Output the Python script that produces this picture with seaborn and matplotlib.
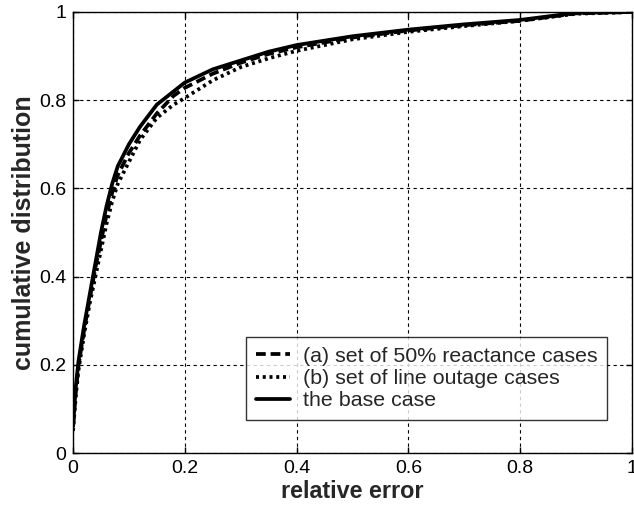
import numpy as np
import pandas as pd
import matplotlib
matplotlib.use("Agg")
import matplotlib.pyplot as plt
import seaborn as sns

# Data (x: relative error, y: cumulative distribution)
x_a = [0, 0.005, 0.01, 0.02, 0.03, 0.04, 0.05, 0.06, 0.07, 0.08, 0.10, 0.12, 0.15, 0.18, 0.20,
       0.25, 0.30, 0.35, 0.40, 0.50, 0.60, 0.70, 0.80, 0.90, 1.0]
y_a = [0.06, 0.14, 0.20, 0.28, 0.35, 0.42, 0.48, 0.54, 0.59, 0.63, 0.68, 0.72, 0.77, 0.81, 0.828,
       0.86, 0.885, 0.905, 0.92, 0.942, 0.958, 0.97, 0.98, 0.997, 1.0]
x_b = [0, 0.005, 0.01, 0.02, 0.03, 0.04, 0.05, 0.06, 0.07, 0.08, 0.10, 0.12, 0.15, 0.18, 0.20,
       0.25, 0.30, 0.35, 0.40, 0.50, 0.60, 0.70, 0.80, 0.90, 1.0]
y_b = [0.05, 0.13, 0.19, 0.27, 0.34, 0.40, 0.46, 0.52, 0.57, 0.61, 0.66, 0.71, 0.76, 0.79, 0.805,
       0.845, 0.875, 0.895, 0.912, 0.938, 0.955, 0.968, 0.98, 0.996, 1.0]
x_base = [0, 0.005, 0.01, 0.02, 0.03, 0.04, 0.05, 0.06, 0.07, 0.08, 0.10, 0.12, 0.15, 0.18, 0.20,
          0.25, 0.30, 0.35, 0.40, 0.50, 0.60, 0.70, 0.80, 0.85, 0.90, 1.0]
y_base = [0.06, 0.15, 0.21, 0.29, 0.36, 0.43, 0.50, 0.56, 0.61, 0.65, 0.70, 0.74, 0.79, 0.82, 0.84,
          0.87, 0.89, 0.91, 0.925, 0.945, 0.96, 0.972, 0.982, 0.99, 0.998, 1.0]

labels = ["(a) set of 50% reactance cases", "(b) set of line outage cases", "the base case"]
xticks = [0, 0.2, 0.4, 0.6, 0.8, 1]
xtick_labels = ["0", "0.2", "0.4", "0.6", "0.8", "1"]
yticks = [0, 0.2, 0.4, 0.6, 0.8, 1]
ytick_labels = ["0", "0.2", "0.4", "0.6", "0.8", "1"]

sns.set_style("white")
plt.rcParams['font.family'] = ['Liberation Sans', 'DejaVu Sans']

fig = plt.figure(figsize=(6.34, 5.05), dpi=100)
ax = fig.add_axes([73/634, 52/505, 559/634, 441/505])

styles = [(0, (2.6, 1.3)), (0, (0.8, 1.0)), "-"]
for xs, ys, lab, ls in zip([x_a, x_b, x_base], [y_a, y_b, y_base], labels, styles):
    df = pd.DataFrame({"x": xs, "y": ys})
    sns.lineplot(data=df, x="x", y="y", ax=ax, color="black", linewidth=2.7,
                 linestyle=ls, label=lab, estimator=None, sort=False)

ax.set_xlim(0, 1)
ax.set_ylim(0, 1)
ax.set_xticks(xticks)
ax.set_xticklabels(xtick_labels)
ax.set_yticks(yticks)
ax.set_yticklabels(ytick_labels)
ax.grid(True, color="black", linestyle=(0, (3, 3)), linewidth=0.8)
ax.tick_params(direction="in", length=4, width=1, labelsize=14, colors="black",
               top=True, right=True, bottom=True, left=True, pad=5)
for s in ax.spines.values():
    s.set_color("black")
    s.set_linewidth(1.0)
ax.set_xlabel("relative error", fontsize=16.8, fontweight="bold", labelpad=2)
ax.set_ylabel("cumulative distribution", fontsize=18, fontweight="bold", labelpad=2)

leg = ax.legend(loc="lower right", bbox_to_anchor=(0.955, 0.075), fontsize=15.4,
                frameon=True, fancybox=False, edgecolor="black", handlelength=1.6,
                handletextpad=0.6, borderpad=0.45, labelspacing=0.15, borderaxespad=0)
leg.get_frame().set_linewidth(1.0)

fig.savefig("out.png", dpi=100)
